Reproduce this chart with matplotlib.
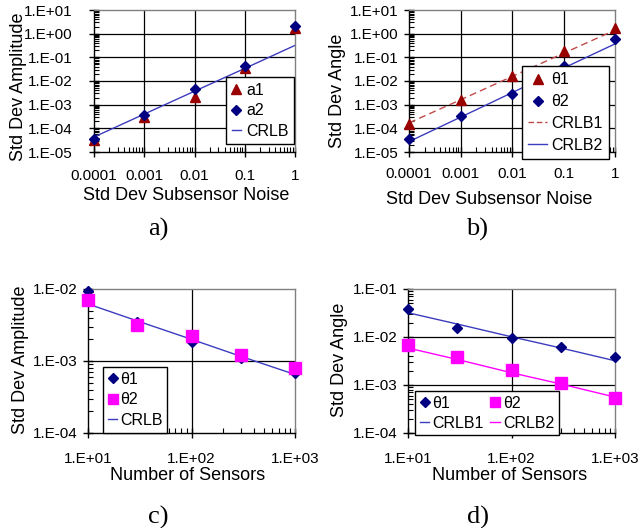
import numpy as np
import matplotlib
matplotlib.use("Agg")
import matplotlib.pyplot as plt
from matplotlib.ticker import LogLocator, NullFormatter, FuncFormatter
from matplotlib.lines import Line2D

# ---- data ----
noise = [1e-4, 1e-3, 1e-2, 1e-1, 1.0]
a1 = [3.1e-5, 3.0e-4, 2.2e-3, 3.5e-2, 1.8]
a2 = [3.5e-5, 3.8e-4, 4.5e-3, 4.1e-2, 2.2]
crlb_a = [4.3e-5, 4.0e-4, 3.7e-3, 3.4e-2, 0.32]

theta1_b = [1.6e-4, 1.5e-3, 1.7e-2, 1.8e-1, 1.7]
theta2_b = [3.5e-5, 3.4e-4, 2.9e-3, 4.4e-2, 0.62]
crlb1_b = [1.7e-4, 1.6e-3, 1.55e-2, 1.48e-1, 1.41]
crlb2_b = [2.75e-5, 2.95e-4, 3.2e-3, 3.5e-2, 0.37]

sensors = [10, 30, 100, 300, 1000]
theta1_c = [9.5e-3, 3.5e-3, 1.86e-3, 1.1e-3, 6.9e-4]
theta2_c = [7.1e-3, 3.2e-3, 2.2e-3, 1.2e-3, 8.1e-4]
crlb_c = [6.2e-3, 3.6e-3, 2.0e-3, 1.16e-3, 6.5e-4]

theta1_d = [3.8e-2, 1.55e-2, 9.5e-3, 6.1e-3, 3.8e-3]
theta2_d = [6.7e-3, 3.8e-3, 2.1e-3, 1.1e-3, 5.4e-4]
crlb1_d = [3.2e-2, 1.86e-2, 1.01e-2, 5.9e-3, 3.2e-3]
crlb2_d = [5.9e-3, 3.4e-3, 1.8e-3, 1.05e-3, 5.6e-4]

noise_labels = ["0.0001", "0.001", "0.01", "0.1", "1"]

# ---- styling ----
SANS = "Liberation Sans"
SERIF = "Liberation Serif"
plt.rcParams["font.family"] = [SANS, "DejaVu Sans"]

NAVY = "#000080"
DARKRED = "#990000"
MAGENTA = "#FF00FF"
LINEBLUE = "#3C3CC0"
DASHRED = "#C04A4A"

W, H = 638, 528
fig = plt.figure(figsize=(W / 100, H / 100), dpi=100)


def rect(l, t, r, b):
    return [l / W, 1 - b / H, (r - l) / W, (b - t) / H]


def fpos(x, y):
    return (x / W, 1 - y / H)


def exp_fmt(v, _pos):
    return "1.E%+03d" % int(round(np.log10(v)))


def setup_axes(ax, xlim, ylim, xpad, ypad, xgrid, ygrid):
    ax.set_xscale("log")
    ax.set_yscale("log")
    ax.set_xlim(*xlim)
    ax.set_ylim(*ylim)
    for axis in (ax.xaxis, ax.yaxis):
        axis.set_major_locator(LogLocator(base=10, numticks=100))
        axis.set_minor_locator(LogLocator(base=10, subs=np.arange(2, 10), numticks=100))
        axis.set_minor_formatter(NullFormatter())
    ax.yaxis.set_major_formatter(FuncFormatter(exp_fmt))
    ax.tick_params(which="major", direction="inout", length=7, width=1,
                   labelsize=11, top=False, right=False)
    ax.tick_params(which="minor", direction="in", length=3.5, width=0.8,
                   top=False, right=False)
    ax.tick_params(axis="x", which="major", pad=xpad)
    ax.tick_params(axis="y", which="major", pad=ypad)
    for s in ("left", "bottom"):
        ax.spines[s].set_color("black")
        ax.spines[s].set_linewidth(1.0)
    for s in ("top", "right"):
        ax.spines[s].set_color("#808080")
        ax.spines[s].set_linewidth(1.0)
    for v in xgrid:
        ax.axvline(v, color="black", lw=0.9, zorder=0.5)
    for v in ygrid:
        ax.axhline(v, color="black", lw=0.9, zorder=0.5)


def add_legend(ax, handles, labels, x, y, ncol=1, **kw):
    opts = dict(borderpad=0.35, labelspacing=0.35, handlelength=0.6,
                handletextpad=0.3)
    opts.update(kw)
    leg = ax.legend(handles, labels, loc="upper left", bbox_to_anchor=fpos(x, y),
                    bbox_transform=fig.transFigure, ncol=ncol, fontsize=11.5,
                    frameon=True, fancybox=False, framealpha=1, edgecolor="black",
                    borderaxespad=0, **opts)
    leg.get_frame().set_linewidth(1.0)
    leg.set_zorder(10)
    return leg


def mk(marker, color, ms):
    return Line2D([], [], ls="none", marker=marker, color=color, ms=ms)


def ln(color, ls="-"):
    return Line2D([], [], color=color, lw=1.0, ls=ls)


# ---- a) ----
ax_a = fig.add_axes(rect(94, 10, 295, 152))
setup_axes(ax_a, (1e-4, 1), (1e-5, 1e1), 8.5, 12,
           [1e-3, 1e-2, 1e-1], [1e-4, 1e-3, 1e-2, 1e-1, 1e0])
ax_a.set_xticks(noise)
ax_a.set_xticklabels(noise_labels)
ax_a.plot(noise, crlb_a, color=LINEBLUE, lw=1.0, zorder=2)
ax_a.plot(noise, a1, ls="none", marker="^", color=DARKRED, ms=7, zorder=3, clip_on=False)
ax_a.plot(noise, a2, ls="none", marker="D", color=NAVY, ms=5.5, zorder=4, clip_on=False)
add_legend(ax_a, [mk("^", DARKRED, 7), mk("D", NAVY, 5), ln(LINEBLUE)],
           ["a1", "a2", "CRLB"], 226, 77)

# ---- b) ----
ax_b = fig.add_axes(rect(409, 10, 615, 152))
setup_axes(ax_b, (1e-4, 1), (1e-5, 1e1), 7.5, 4,
           [1e-3, 1e-2, 1e-1], [1e-4, 1e-3, 1e-2, 1e-1, 1e0])
ax_b.set_xticks(noise)
ax_b.set_xticklabels(noise_labels)
ax_b.plot(noise, crlb1_b, color=DASHRED, lw=1.0, ls=(0, (5, 3)), zorder=2)
ax_b.plot(noise, crlb2_b, color=LINEBLUE, lw=1.0, zorder=2)
ax_b.plot(noise, theta1_b, ls="none", marker="^", color=DARKRED, ms=7, zorder=3, clip_on=False)
ax_b.plot(noise, theta2_b, ls="none", marker="D", color=NAVY, ms=5.5, zorder=4, clip_on=False)
add_legend(ax_b, [mk("^", DARKRED, 7), mk("D", NAVY, 5),
                  ln(DASHRED, (0, (4, 2))), ln(LINEBLUE)],
           ["θ1", "θ2", "CRLB1", "CRLB2"], 522, 66,
           handlelength=1.15, labelspacing=0.42, borderpad=0.4)

# ---- c) ----
ax_c = fig.add_axes(rect(88, 289, 295, 433))
setup_axes(ax_c, (10, 1000), (1e-4, 1e-2), 10.5, 4, [100], [1e-3])
ax_c.xaxis.set_major_formatter(FuncFormatter(exp_fmt))
ax_c.plot(sensors, crlb_c, color=LINEBLUE, lw=1.0, zorder=2)
ax_c.plot(sensors, theta1_c, ls="none", marker="D", color=NAVY, ms=5.5, zorder=3, clip_on=False)
ax_c.plot(sensors, theta2_c, ls="none", marker="s", color=MAGENTA, ms=8, zorder=4, clip_on=False)
add_legend(ax_c, [mk("D", NAVY, 5), mk("s", MAGENTA, 7.5), ln(LINEBLUE)],
           ["θ1", "θ2", "CRLB"], 103, 367, handletextpad=0.15, borderpad=0.3)

# ---- d) ----
ax_d = fig.add_axes(rect(408, 289, 615, 433))
setup_axes(ax_d, (10, 1000), (1e-4, 1e-1), 10.5, 4, [100], [1e-3, 1e-2])
ax_d.xaxis.set_major_formatter(FuncFormatter(exp_fmt))
ax_d.plot(sensors, crlb1_d, color=LINEBLUE, lw=1.0, zorder=2)
ax_d.plot(sensors, crlb2_d, color=MAGENTA, lw=1.0, zorder=2)
ax_d.plot(sensors, theta1_d, ls="none", marker="D", color=NAVY, ms=5.5, zorder=3, clip_on=False)
ax_d.plot(sensors, theta2_d, ls="none", marker="s", color=MAGENTA, ms=8, zorder=4, clip_on=False)
add_legend(ax_d, [mk("D", NAVY, 5), ln(LINEBLUE), mk("s", MAGENTA, 7.5), ln(MAGENTA)],
           ["θ1", "CRLB1", "θ2", "CRLB2"], 415, 391, ncol=2,
           columnspacing=0.4, handletextpad=0.2, borderpad=0.3, labelspacing=0.3)

# ---- axis titles and captions ----
xlabels = [("Std Dev Subsensor Noise", 186, 195), ("Std Dev Subsensor Noise", 489, 199),
           ("Number of Sensors", 188, 476), ("Number of Sensors", 510, 476)]
for txt, x, y in xlabels:
    fig.text(*fpos(x, y), txt, fontsize=13, ha="center", va="center")

ylabels = [("Std Dev Amplitude", 19, 87), ("Std Dev Angle", 338, 91),
           ("Std Dev Amplitude", 21, 360), ("Std Dev Angle", 340, 360)]
for txt, x, y in ylabels:
    fig.text(*fpos(x, y), txt, fontsize=13, ha="center", va="center", rotation=90)

captions = [("a)", 158, 229), ("b)", 477, 229), ("c)", 158, 517), ("d)", 478, 517)]
for txt, x, y in captions:
    fig.text(*fpos(x, y), txt, fontsize=19, ha="center", va="center", family=SERIF)

fig.savefig("out.png", dpi=100)
